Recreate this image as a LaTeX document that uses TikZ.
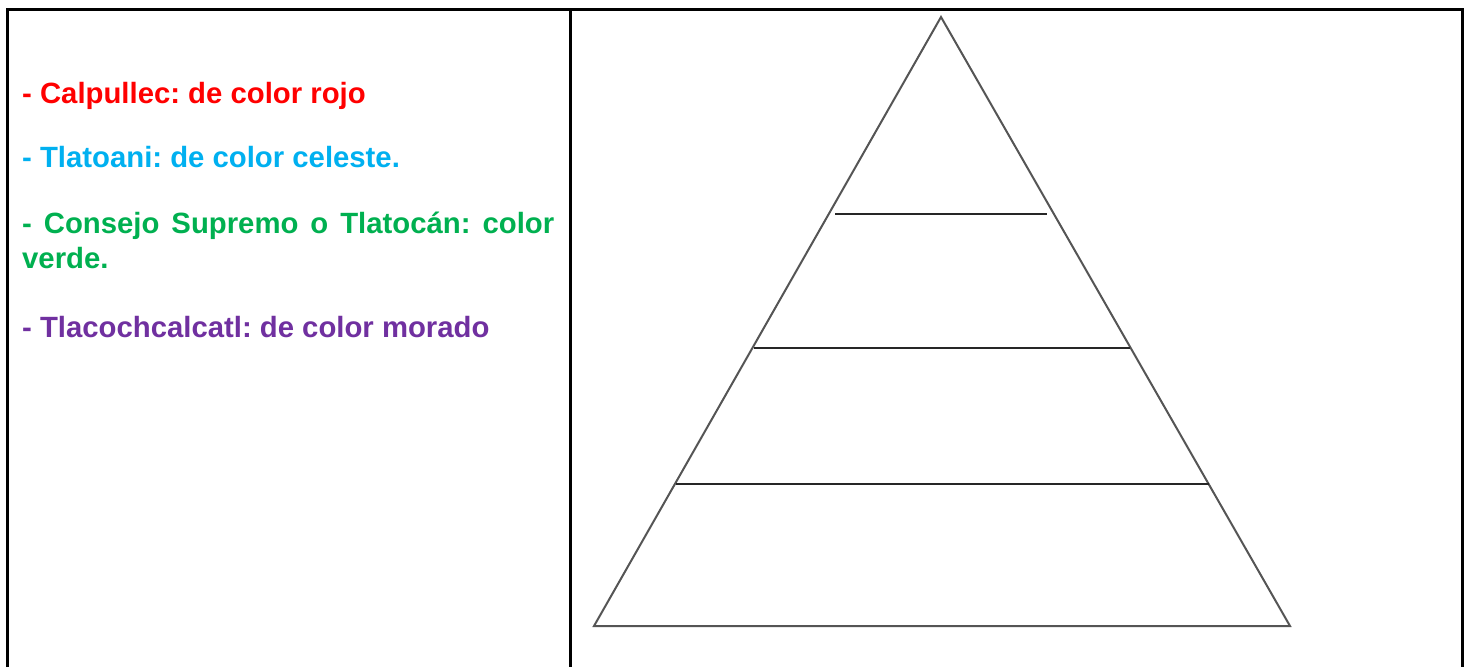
\documentclass[tikz,border=0pt]{standalone}
\usepackage{fontspec}
\setmainfont{Liberation Sans}
\frenchspacing
\definecolor{rojo}{HTML}{FF0000}
\definecolor{celeste}{HTML}{00B0F0}
\definecolor{verde}{HTML}{00B050}
\definecolor{morado}{HTML}{7030A0}
\definecolor{trigrey}{HTML}{555555}
\begin{document}
\begin{tikzpicture}[x=1pt,y=-1pt,
  frame/.style={line width=3pt,black},
  triline/.style={line width=2pt,draw=trigrey,line join=miter},
  level/.style={line width=2pt,black!85},
  legend/.style={anchor=base west,inner sep=0pt,font=\fontsize{29.3}{35}\selectfont\bfseries\frenchspacing}]
\useasboundingbox (0,0) rectangle (1469,667);
\fill[white] (0,0) rectangle (1469,667);
% table frame
\draw[frame] (7,667) -- (7,9) -- (1462,9) -- (1462,667);
\draw[frame] (570,9) -- (570,667);
% legend
\node[legend,text=rojo] (t1) at (22,103) {- Calpullec: de color rojo};
\node[legend,text=celeste] (t2) at (22,167) {- Tlatoani: de color celeste.};
\node[legend,text=verde,text width=532pt,align=justify] (t3) at (22,233) {- Consejo Supremo o Tlatocán: color verde.};
\node[legend,text=morado] (t4) at (22,337) {- Tlacochcalcatl: de color morado};
% pyramid
\coordinate (apex) at (941,17);
\coordinate (bl) at (594,626);
\coordinate (br) at (1290,626);
\draw[triline] (apex) -- (bl) -- (br) -- cycle;
\draw[level] (835,214) -- (1047,214);
\draw[level] (754,348) -- (1130,348);
\draw[level] (676,484) -- (1209,484);
\end{tikzpicture}
\end{document}
